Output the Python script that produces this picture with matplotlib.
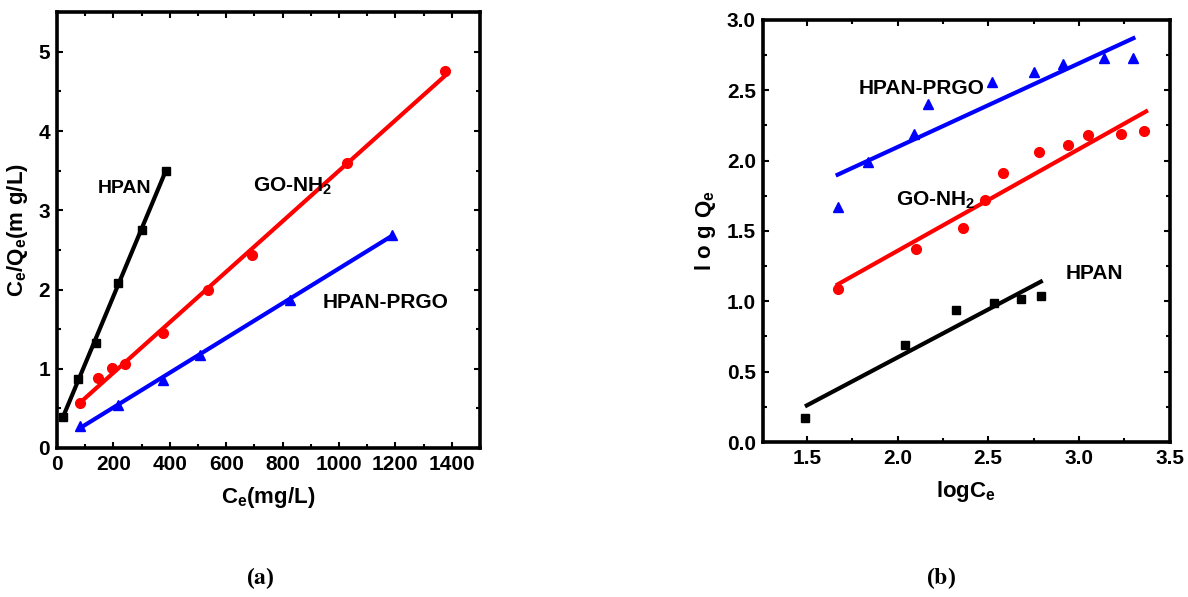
import matplotlib
matplotlib.use("Agg")
import numpy as np
from matplotlib import pyplot as plt
from matplotlib.ticker import MultipleLocator

plt.rcParams['font.family'] = ['Liberation Sans', 'DejaVu Sans']
plt.rcParams['font.weight'] = 'bold'
plt.rcParams['mathtext.fontset'] = 'custom'
plt.rcParams['mathtext.rm'] = 'Liberation Sans:bold'
plt.rcParams['mathtext.it'] = 'Liberation Sans:bold'
plt.rcParams['mathtext.bf'] = 'Liberation Sans:bold'

# (a) Langmuir: Ce vs Ce/Qe
hpan_ce = [21, 74, 138, 216, 301, 386]
hpan_ratio = [0.39, 0.87, 1.33, 2.08, 2.75, 3.49]
hpan_fit_x = [21, 386]
hpan_fit_y = [0.39, 3.5]

go_ce = [81, 145, 195, 241, 375, 535, 690, 1030, 1377]
go_ratio = [0.57, 0.88, 1.01, 1.06, 1.45, 2.0, 2.44, 3.6, 4.76]
go_fit_x = [81, 1377]
go_fit_y = [0.57, 4.70]

prgo_ce = [81, 216, 375, 506, 825, 1189]
prgo_ratio = [0.28, 0.54, 0.86, 1.17, 1.87, 2.69]
prgo_fit_x = [81, 1189]
prgo_fit_y = [0.25, 2.68]

# (b) Freundlich: logCe vs logQe
hpan_logc = [1.49, 2.04, 2.32, 2.53, 2.68, 2.79]
hpan_logq = [0.17, 0.69, 0.94, 0.99, 1.02, 1.04]
hpan_lfit_x = [1.50, 2.79]
hpan_lfit_y = [0.26, 1.14]

go_logc = [1.67, 2.10, 2.36, 2.48, 2.58, 2.78, 2.94, 3.05, 3.23, 3.36]
go_logq = [1.09, 1.37, 1.52, 1.72, 1.91, 2.06, 2.11, 2.18, 2.19, 2.21]
go_lfit_x = [1.67, 3.37]
go_lfit_y = [1.12, 2.35]

prgo_logc = [1.67, 1.84, 2.09, 2.17, 2.52, 2.75, 2.91, 3.14, 3.30]
prgo_logq = [1.67, 1.99, 2.19, 2.40, 2.56, 2.63, 2.69, 2.73, 2.73]
prgo_lfit_x = [1.67, 3.30]
prgo_lfit_y = [1.90, 2.87]

fig = plt.figure(figsize=(11.88, 5.97), dpi=100)
ax1 = fig.add_axes([0.048, 0.2496, 0.356, 0.730])
ax2 = fig.add_axes([0.642, 0.2596, 0.3426, 0.707])

# panel a
ax1.plot(hpan_fit_x, hpan_fit_y, color='black', lw=3)
ax1.plot(hpan_ce, hpan_ratio, 's', color='black', ms=6)
ax1.plot(go_fit_x, go_fit_y, color='red', lw=3)
ax1.plot(go_ce, go_ratio, 'o', color='red', ms=7)
ax1.plot(prgo_fit_x, prgo_fit_y, color='blue', lw=3)
ax1.plot(prgo_ce, prgo_ratio, '^', color='blue', ms=7)
ax1.set_xlim(0, 1500)
ax1.set_ylim(0, 5.5)
ax1.xaxis.set_major_locator(MultipleLocator(200))
ax1.xaxis.set_minor_locator(MultipleLocator(100))
ax1.yaxis.set_major_locator(MultipleLocator(1))
ax1.yaxis.set_minor_locator(MultipleLocator(0.5))
ax1.set_xlabel(r'$\mathrm{C_e(mg/L)}$', fontsize=16, labelpad=8)
ax1.set_ylabel(r'$\mathrm{C_e/Q_e(m\ g/L)}$', fontsize=16, labelpad=6)
ax1.text(145, 3.28, 'HPAN', fontsize=14, fontweight='bold', va='center')
ax1.text(694, 3.30, r'$\mathrm{GO\text{-}NH_2}$', fontsize=15, va='center')
ax1.text(942, 1.84, 'HPAN-PRGO', fontsize=15, fontweight='bold', va='center')

# panel b
ax2.plot(hpan_lfit_x, hpan_lfit_y, color='black', lw=3)
ax2.plot(hpan_logc, hpan_logq, 's', color='black', ms=6)
ax2.plot(go_lfit_x, go_lfit_y, color='red', lw=3)
ax2.plot(go_logc, go_logq, 'o', color='red', ms=7)
ax2.plot(prgo_lfit_x, prgo_lfit_y, color='blue', lw=3)
ax2.plot(prgo_logc, prgo_logq, '^', color='blue', ms=7)
ax2.set_xlim(1.257, 3.5)
ax2.set_ylim(0, 3.0)
ax2.xaxis.set_major_locator(MultipleLocator(0.5))
ax2.xaxis.set_minor_locator(MultipleLocator(0.25))
ax2.yaxis.set_major_locator(MultipleLocator(0.5))
ax2.yaxis.set_minor_locator(MultipleLocator(0.25))
ax2.set_xlabel(r'$\mathrm{logC_e}$', fontsize=16, labelpad=8)
ax2.set_ylabel(r'$\mathrm{l\ o\ g\ Q_e}$', fontsize=16, labelpad=6)
ax2.text(1.787, 2.51, 'HPAN-PRGO', fontsize=15, fontweight='bold', va='center')
ax2.text(1.99, 1.72, r'$\mathrm{GO\text{-}NH_2}$', fontsize=15, va='center')
ax2.text(2.925, 1.20, 'HPAN', fontsize=15, fontweight='bold', va='center')

for ax in (ax1, ax2):
    for s in ax.spines.values():
        s.set_linewidth(2.6)
    ax.tick_params(which='both', direction='in', top=True, right=True,
                   labelsize=15, width=1.5, pad=5)
    ax.tick_params(which='major', length=4)
    ax.tick_params(which='minor', length=3)

fig.text(0.219, 0.032, r'($\mathbf{a}$)', fontsize=17, family='Liberation Serif',
         math_fontfamily='stix', ha='center', va='center')
fig.text(0.792, 0.032, r'($\mathbf{b}$)', fontsize=17, family='Liberation Serif',
         math_fontfamily='stix', ha='center', va='center')

fig.savefig('out.png', dpi=100)
